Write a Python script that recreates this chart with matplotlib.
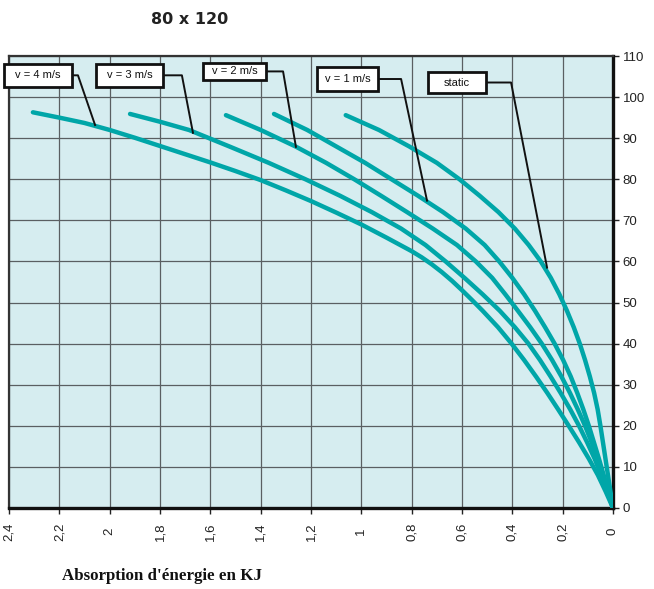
import matplotlib
matplotlib.use("Agg")
import matplotlib.pyplot as plt
from matplotlib.patches import Rectangle
from matplotlib.ticker import FuncFormatter

# ---------------- data ----------------
static_x = [1.062, 0.93, 0.81, 0.70, 0.61, 0.53, 0.455, 0.39, 0.335, 0.287, 0.247, 0.213, 0.183,
            0.156, 0.132, 0.111, 0.092, 0.075, 0.061, 0.05, 0.04, 0.03, 0.02, 0.01, 0.0]
static_y = [95.6, 92, 88, 84, 80, 76, 72, 68, 64, 60, 56, 52, 48,
            44, 40, 36, 32, 28, 24, 20, 16, 12, 8, 4, 0]

v1_x = [1.347, 1.215, 1.10, 0.985, 0.88, 0.775, 0.675, 0.585, 0.51, 0.452, 0.40, 0.353, 0.31,
        0.27, 0.232, 0.198, 0.168, 0.142, 0.118, 0.096, 0.076, 0.056, 0.037, 0.018, 0.0]
v1_y = [95.9, 92, 88, 84, 80, 76, 72, 68, 64, 60, 56, 52, 48,
        44, 40, 36, 32, 28, 24, 20, 16, 12, 8, 4, 0]

v2_x = [1.538, 1.40, 1.262, 1.14, 1.028, 0.922, 0.818, 0.716, 0.62, 0.545, 0.48, 0.428, 0.378,
        0.329, 0.283, 0.242, 0.205, 0.171, 0.14, 0.111, 0.085, 0.061, 0.04, 0.02, 0.0]
v2_y = [95.6, 92, 88, 84, 80, 76, 72, 68, 64, 60, 56, 52, 48,
        44, 40, 36, 32, 28, 24, 20, 16, 12, 8, 4, 0]

v3_x = [1.919, 1.80, 1.685, 1.525, 1.368, 1.222, 1.085, 0.958, 0.842, 0.745, 0.665, 0.59, 0.518,
        0.45, 0.39, 0.336, 0.29, 0.248, 0.208, 0.17, 0.135, 0.103, 0.073, 0.047, 0.023, 0.0]
v3_y = [95.9, 94, 92, 88, 84, 80, 76, 72, 68, 64, 60, 56, 52,
        48, 44, 40, 36, 32, 28, 24, 20, 16, 12, 8, 4, 0]

v4_x = [2.305, 2.2, 2.1, 2.0, 1.9, 1.8, 1.7, 1.6, 1.5, 1.4, 1.3, 1.2, 1.1, 1.0, 0.9, 0.8,
        0.76, 0.72, 0.68, 0.64, 0.60, 0.56, 0.518, 0.457, 0.403, 0.353, 0.306, 0.261, 0.218,
        0.176, 0.135, 0.096, 0.06, 0.029, 0.0]
v4_y = [96.3, 95.0, 93.7, 92.0, 90.1, 88.1, 86.1, 84.1, 82.0, 79.8, 77.3, 74.7, 71.9, 69.0, 65.8, 62.5,
        61.0, 59.3, 57.4, 55.3, 53.0, 50.6, 48, 44, 40, 36, 32, 28, 24,
        20, 16, 12, 8, 4, 0]

series_x = [v4_x, v3_x, v2_x, v1_x, static_x]
series_y = [v4_y, v3_y, v2_y, v1_y, static_y]

labels = ["v = 4 m/s", "v = 3 m/s", "v = 2 m/s", "v = 1 m/s", "static"]
# label boxes (x0, x1, y0, y1) in data units and leader targets on curves
boxes = [(2.42, 2.149, 102.5, 108.1),
         (2.054, 1.788, 102.5, 108.1),
         (1.629, 1.379, 104.2, 108.3),
         (1.176, 0.934, 101.5, 107.3),
         (0.735, 0.505, 101.0, 106.1)]
leader_knee = [2.126, 1.713, 1.311, 0.842, 0.405]
leader_end = [(2.058, 93.2), (1.669, 91.3), (1.26, 87.9), (0.739, 74.8), (0.262, 58.5)]

x_ticks = [2.4, 2.2, 2.0, 1.8, 1.6, 1.4, 1.2, 1.0, 0.8, 0.6, 0.4, 0.2, 0.0]
y_ticks = list(range(0, 111, 10))

title = "80 x 120"
xlabel = "Absorption d'énergie en KJ"

# ---------------- figure ----------------
plt.rcParams['font.family'] = ['Liberation Sans', 'DejaVu Sans']
fig = plt.figure(figsize=(6.54, 5.89), dpi=100)
ax = fig.add_axes([9/654, 1-508/589, (613-9)/654, (508-56)/589])
ax.set_facecolor('#D6EDF0')
ax.set_xlim(2.4, 0)
ax.set_ylim(0, 110)

ax.set_xticks(x_ticks)
ax.set_yticks(y_ticks)
ax.xaxis.set_major_formatter(FuncFormatter(lambda v, p: ('%g' % round(v, 1)).replace('.', ',')))
ax.grid(True, color='#5a5f62', linewidth=0.9)
ax.set_axisbelow(True)

ax.yaxis.tick_right()
ax.tick_params(axis='y', direction='out', length=4, width=1, labelsize=9.5, pad=3, colors='#222222')
ax.tick_params(axis='x', direction='out', length=4, width=1, labelsize=9.5, pad=13, labelrotation=90, colors='#222222')
for t in ax.get_xticklabels():
    t.set_verticalalignment('center')

for side, lw, col in [('left', 1.6, '#333333'), ('top', 1.6, '#333333'), ('right', 2.4, '#111111'), ('bottom', 2.4, '#111111')]:
    ax.spines[side].set_linewidth(lw)
    ax.spines[side].set_color(col)

teal = '#00A6A8'
for xs, ys in zip(series_x, series_y):
    ax.plot(xs, ys, color=teal, linewidth=3.2, solid_capstyle='round', solid_joinstyle='round', zorder=3)

for lab, (x0, x1, y0, y1), kx, (ex, ey) in zip(labels, boxes, leader_knee, leader_end):
    ym = (y0 + y1) / 2
    ax.plot([x1, kx, ex], [ym, ym, ey], color='#111111', linewidth=1.4, zorder=4, clip_on=False)
    ax.add_patch(Rectangle((x1, y0), x0 - x1, y1 - y0, facecolor='white', edgecolor='#111111',
                           linewidth=2.0, zorder=5, clip_on=False))
    ax.text((x0 + x1) / 2, ym, lab, ha='center', va='center', fontsize=8, color='#111111', zorder=6)

fig.text(190/654, 1-19/589, title, ha='center', va='center', fontsize=11.5, fontweight='bold',
         family=['DejaVu Sans'], color='#222222')
fig.text(62/654, 1-576/589, xlabel, ha='left', va='center', fontsize=12.2, fontweight='bold',
         family=['Liberation Serif', 'DejaVu Serif'], color='#111111')

fig.savefig('out.png', dpi=100)
